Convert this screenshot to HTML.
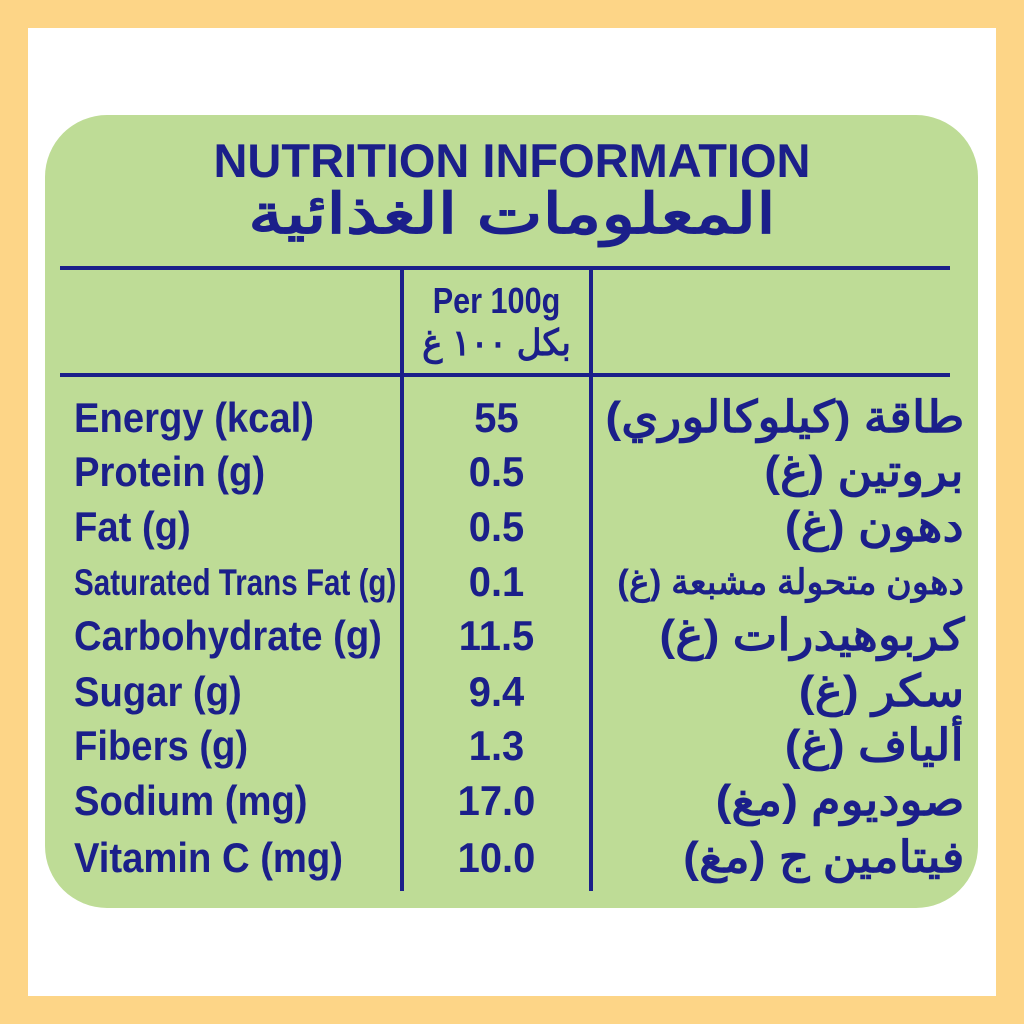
<!DOCTYPE html>
<html><head><meta charset="utf-8"><style>
body{margin:0;width:1024px;height:1024px;background:#fdd587;position:relative;overflow:hidden}
.w{position:absolute;left:28px;top:28px;width:968px;height:968px;background:#fff}
.g{position:absolute;left:45px;top:115px;width:933px;height:793px;background:#bedc96;border-radius:62px}
.l{position:absolute;background:#1b1f8a}
.t{position:absolute;color:#1b1f8a;font-family:"Liberation Sans",sans-serif;font-weight:bold;white-space:nowrap;line-height:1}
.en{left:74px;font-size:42px;transform-origin:left center;transform:scaleX(.91)}
.num{left:402px;width:189px;text-align:center;font-size:42px;transform:scaleX(.95)}
.ar{right:60px;font-family:"Liberation Sans","Noto Sans CJK SC",sans-serif;font-size:44px;direction:rtl;transform-origin:right center;transform:scaleX(1.08)}
</style></head><body>
<div class="w"></div><div class="g"></div>
<div class="t" style="left:0;width:1024px;text-align:center;top:137px;font-size:47px">NUTRITION INFORMATION</div>
<div class="t" style="left:0;width:1024px;text-align:center;top:186px;font-size:56px;font-family:'Liberation Sans','Noto Sans CJK SC',sans-serif;direction:rtl;transform:scaleX(1.25)">المعلومات الغذائية</div>
<div class="l" style="left:60px;top:266px;width:890px;height:4px"></div>
<div class="l" style="left:60px;top:373px;width:890px;height:4px"></div>
<div class="l" style="left:400px;top:266px;width:4px;height:625px"></div>
<div class="l" style="left:589px;top:266px;width:4px;height:625px"></div>
<div class="t num" style="top:283px;font-size:36px;transform:scaleX(.85)">Per 100g</div>
<div class="t num" style="top:325px;font-size:36px;font-family:'Liberation Sans','Noto Sans CJK SC',sans-serif;direction:rtl">بكل ١٠٠ غ</div>
<div class="t en" style="top:397px">Energy (kcal)</div><div class="t num" style="top:397px">55</div><div class="t ar" style="top:396px">طاقة (كيلوكالوري)</div>
<div class="t en" style="top:451px">Protein (g)</div><div class="t num" style="top:451px">0.5</div><div class="t ar" style="top:450px">بروتين (غ)</div>
<div class="t en" style="top:506px">Fat (g)</div><div class="t num" style="top:506px">0.5</div><div class="t ar" style="top:505px">دهون (غ)</div>
<div class="t en" style="top:564px;font-size:37px;transform:scaleX(.8)">Saturated Trans Fat (g)</div><div class="t num" style="top:561px">0.1</div><div class="t ar" style="top:565px;font-size:35px;transform:scaleX(1)">دهون متحولة مشبعة (غ)</div>
<div class="t en" style="top:615px">Carbohydrate (g)</div><div class="t num" style="top:615px">11.5</div><div class="t ar" style="top:614px">كربوهيدرات (غ)</div>
<div class="t en" style="top:671px">Sugar (g)</div><div class="t num" style="top:671px">9.4</div><div class="t ar" style="top:670px">سكر (غ)</div>
<div class="t en" style="top:725px">Fibers (g)</div><div class="t num" style="top:725px">1.3</div><div class="t ar" style="top:724px">ألياف (غ)</div>
<div class="t en" style="top:780px">Sodium (mg)</div><div class="t num" style="top:780px">17.0</div><div class="t ar" style="top:779px">صوديوم (مغ)</div>
<div class="t en" style="top:837px">Vitamin C (mg)</div><div class="t num" style="top:837px">10.0</div><div class="t ar" style="top:836px">فيتامين ج (مغ)</div>
</body></html>
